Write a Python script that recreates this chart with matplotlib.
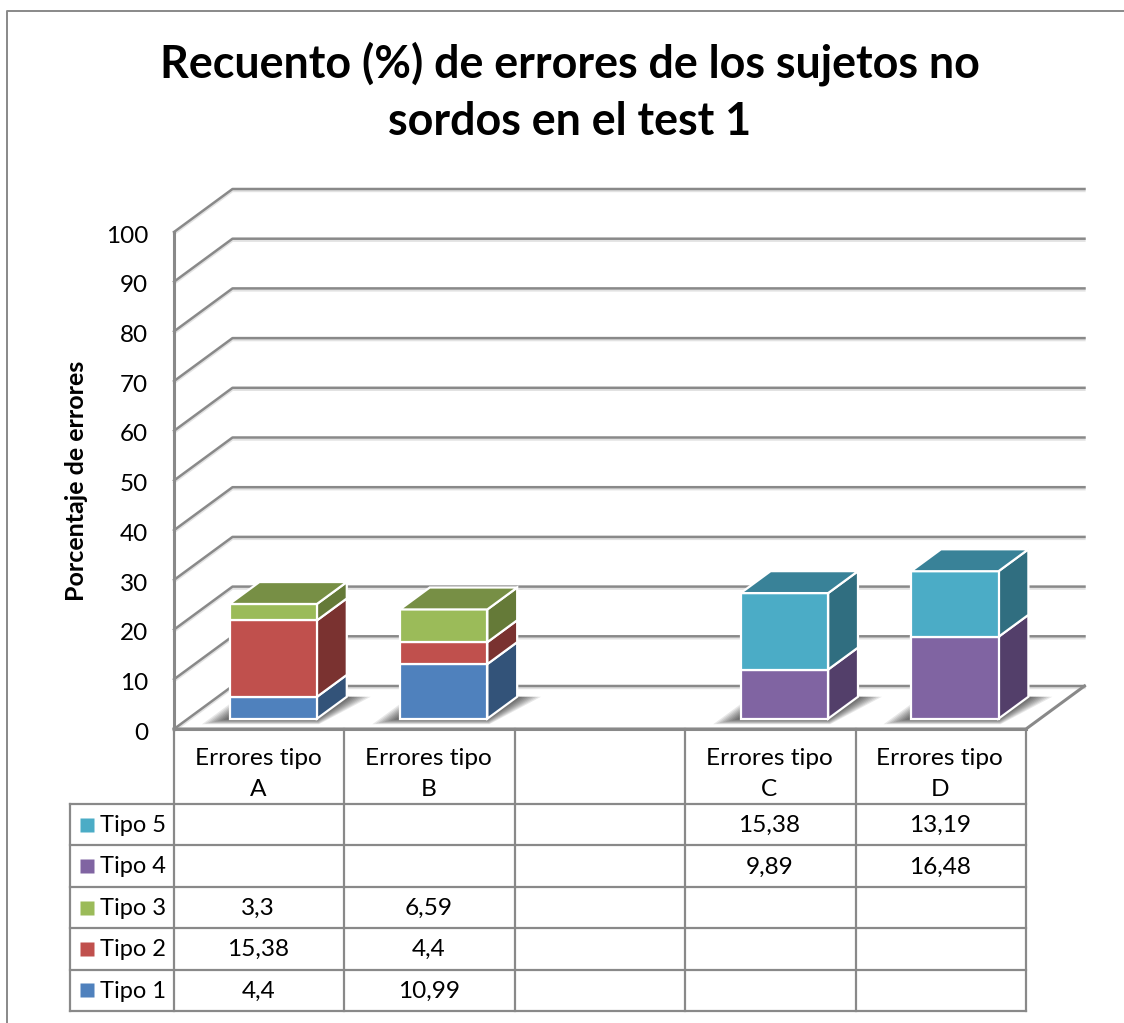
import matplotlib
matplotlib.use("Agg")
import matplotlib.pyplot as plt
from matplotlib.lines import Line2D
from matplotlib.patches import Polygon
from matplotlib.transforms import ScaledTranslation

plt.rcParams['font.family'] = ['Lato', 'DejaVu Sans']

# -------------------------------------------------------
# Data
# -------------------------------------------------------
categories = ["Errores tipo\nA", "Errores tipo\nB", "", "Errores tipo\nC", "Errores tipo\nD"]
tipo_1 = [4.4, 10.99, None, None, None]
tipo_2 = [15.38, 4.4, None, None, None]
tipo_3 = [3.3, 6.59, None, None, None]
tipo_4 = [None, None, None, 9.89, 16.48]
tipo_5 = [None, None, None, 15.38, 13.19]
series_names = ["Tipo 1", "Tipo 2", "Tipo 3", "Tipo 4", "Tipo 5"]
y_ticks = [0, 10, 20, 30, 40, 50, 60, 70, 80, 90, 100]

title = "Recuento (%) de errores de los sujetos no\nsordos en el test 1"
y_label = "Porcentaje de errores"

front_colors = ["#4F81BD", "#C0504D", "#9BBB59", "#8064A2", "#4BACC6"]
side_colors = ["#335379", "#7A3230", "#657A38", "#533F6A", "#306E80"]
top_colors = ["#3D6594", "#953E3B", "#778F45", "#644E7E", "#398298"]
GRID = "#898989"

# -------------------------------------------------------
# Layout (pixels of the 1124x1023 picture)
# -------------------------------------------------------
W, H = 1124, 1023
figure = plt.figure(figsize=(W / 100, H / 100), dpi=100, facecolor="white")


def axes_from_pixels(left, right, top, bottom):
    return figure.add_axes([left / W, 1 - bottom / H, (right - left) / W, (bottom - top) / H])


axe = axes_from_pixels(174, 1026, 232, 729)
axe.set_xlim(0, len(categories))
axe.set_ylim(0, 100)
for spine in axe.spines.values():
    spine.set_visible(False)
axe.patch.set_alpha(0)

# depth of the 3D box, in data units
DX = 58.5 / (852 / 5)
DY = 43 / 4.97
D_FRONT, D_BACK = 0.24, 0.75
BAR_W = 0.513


def px(x, y, d):
    return (x + d * DX, y + d * DY)


# walls, gridlines
shadow_shift = axe.transData + ScaledTranslation(0, -1.5 / 72, figure.dpi_scale_trans)
for t in y_ticks:
    axe.plot([0, DX, 5 + DX], [t, t + DY, t + DY], color="#E2E2E2", lw=1.6, clip_on=False, zorder=1,
             transform=shadow_shift)
    axe.plot([0, DX, 5 + DX], [t, t + DY, t + DY], color=GRID, lw=1.8, clip_on=False, zorder=2)
axe.plot([0, 0], [0, 100], color=GRID, lw=2.2, clip_on=False, zorder=2)
# floor
axe.plot([0, 5, 5 + DX], [0, 0, DY], color=GRID, lw=2.2, clip_on=False, zorder=2)

# bars
all_series = [tipo_1, tipo_2, tipo_3, tipo_4, tipo_5]
for i in range(len(categories)):
    x0 = i + (1 - BAR_W) / 2
    x1 = x0 + BAR_W
    parts = [(s[i], k) for k, s in enumerate(all_series) if s[i] is not None]
    if not parts:
        continue
    # soft shadow on the floor
    steps = 9
    for n in range(steps):
        g = (steps - n) / steps
        sl, sr = 20 / 170.4 * g, 24 / 170.4 * g
        d0 = D_FRONT - 0.13 * g
        axe.add_patch(Polygon([px(x0 - sl, 0, d0), px(x1 + sr * 0.4, 0, d0),
                               px(x1 + sr, 0, D_BACK), px(x0 - sl, 0, D_BACK)],
                              closed=True, fc="black", ec="none", alpha=0.09, zorder=3, clip_on=False))
    bottom = 0
    for value, k in parts:
        top = bottom + value
        axe.add_patch(Polygon([px(x1, bottom, D_FRONT), px(x1, bottom, D_BACK),
                               px(x1, top, D_BACK), px(x1, top, D_FRONT)],
                              closed=True, fc=side_colors[k], ec="white", lw=1.6, zorder=4, clip_on=False))
        axe.add_patch(Polygon([px(x0, bottom, D_FRONT), px(x1, bottom, D_FRONT),
                               px(x1, top, D_FRONT), px(x0, top, D_FRONT)],
                              closed=True, fc=front_colors[k], ec="white", lw=1.6, zorder=5, clip_on=False))
        bottom = top
    k = parts[-1][1]
    axe.add_patch(Polygon([px(x0, bottom, D_FRONT), px(x1, bottom, D_FRONT),
                           px(x1, bottom, D_BACK), px(x0, bottom, D_BACK)],
                          closed=True, fc=top_colors[k], ec="white", lw=1.6, zorder=5, clip_on=False))

# axis text
axe.set_xticks([])
axe.set_yticks(y_ticks)
axe.tick_params(axis="y", length=0, pad=18.5, labelsize=17.5, labelcolor="black")
label_shift = ScaledTranslation(0, -3 / 72, figure.dpi_scale_trans)
for lab in axe.get_yticklabels():
    lab.set_va("center")
    lab.set_transform(lab.get_transform() + label_shift)
axe.set_ylabel(y_label, fontsize=18, fontweight="bold", va="center")
axe.yaxis.set_label_coords(-98 / 852, 0.5)

# -------------------------------------------------------
# Data table
# -------------------------------------------------------
tab = axes_from_pixels(174, 1026, 729, 1011)
tab.set_xlim(0, len(categories))
tab.set_ylim(0, 5 + 75 / 41.4)
tab.axis("off")
LEG = -104 / 170.4
TOP = 5 + 75 / 41.4
for r in range(6):
    tab.plot([LEG, 5], [r, r], color=GRID, lw=1.6, clip_on=False)
tab.plot([0, 5], [TOP, TOP], color=GRID, lw=2.2, clip_on=False)
tab.plot([LEG, LEG], [0, 5], color=GRID, lw=1.6, clip_on=False)
for c in range(6):
    tab.plot([c, c], [0, TOP], color=GRID, lw=1.6, clip_on=False)

for c, name in enumerate(categories):
    tab.text(c + 0.5 - 0.006, 5 + 75 / 41.4 / 2 - 0.18, name, ha="center", va="center", fontsize=17.6, linespacing=1.6)

for r, s in enumerate(all_series):
    tab.plot([-0.513], [r + 0.5], marker="s", ms=9.4, color=front_colors[r], mec="none", clip_on=False)
    tab.text(-0.434, r + 0.48, series_names[r], ha="left", va="center", fontsize=17)
    for c, v in enumerate(s):
        if v is not None:
            tab.text(c + 0.5 - 0.006, r + 0.48, str(v).replace(".", ","), ha="center", va="center", fontsize=17.6)

# -------------------------------------------------------
# Frame, title
# -------------------------------------------------------
figure.add_artist(Line2D([7 / W, 7 / W, 1], [0, 1 - 11 / H, 1 - 11 / H], color=GRID, lw=1.4))
figure.text(570 / W, 1 - 92 / H, title, ha="center", va="center", fontsize=32.3, fontweight="bold", linespacing=1.45)

figure.savefig("out.png", dpi=100)
